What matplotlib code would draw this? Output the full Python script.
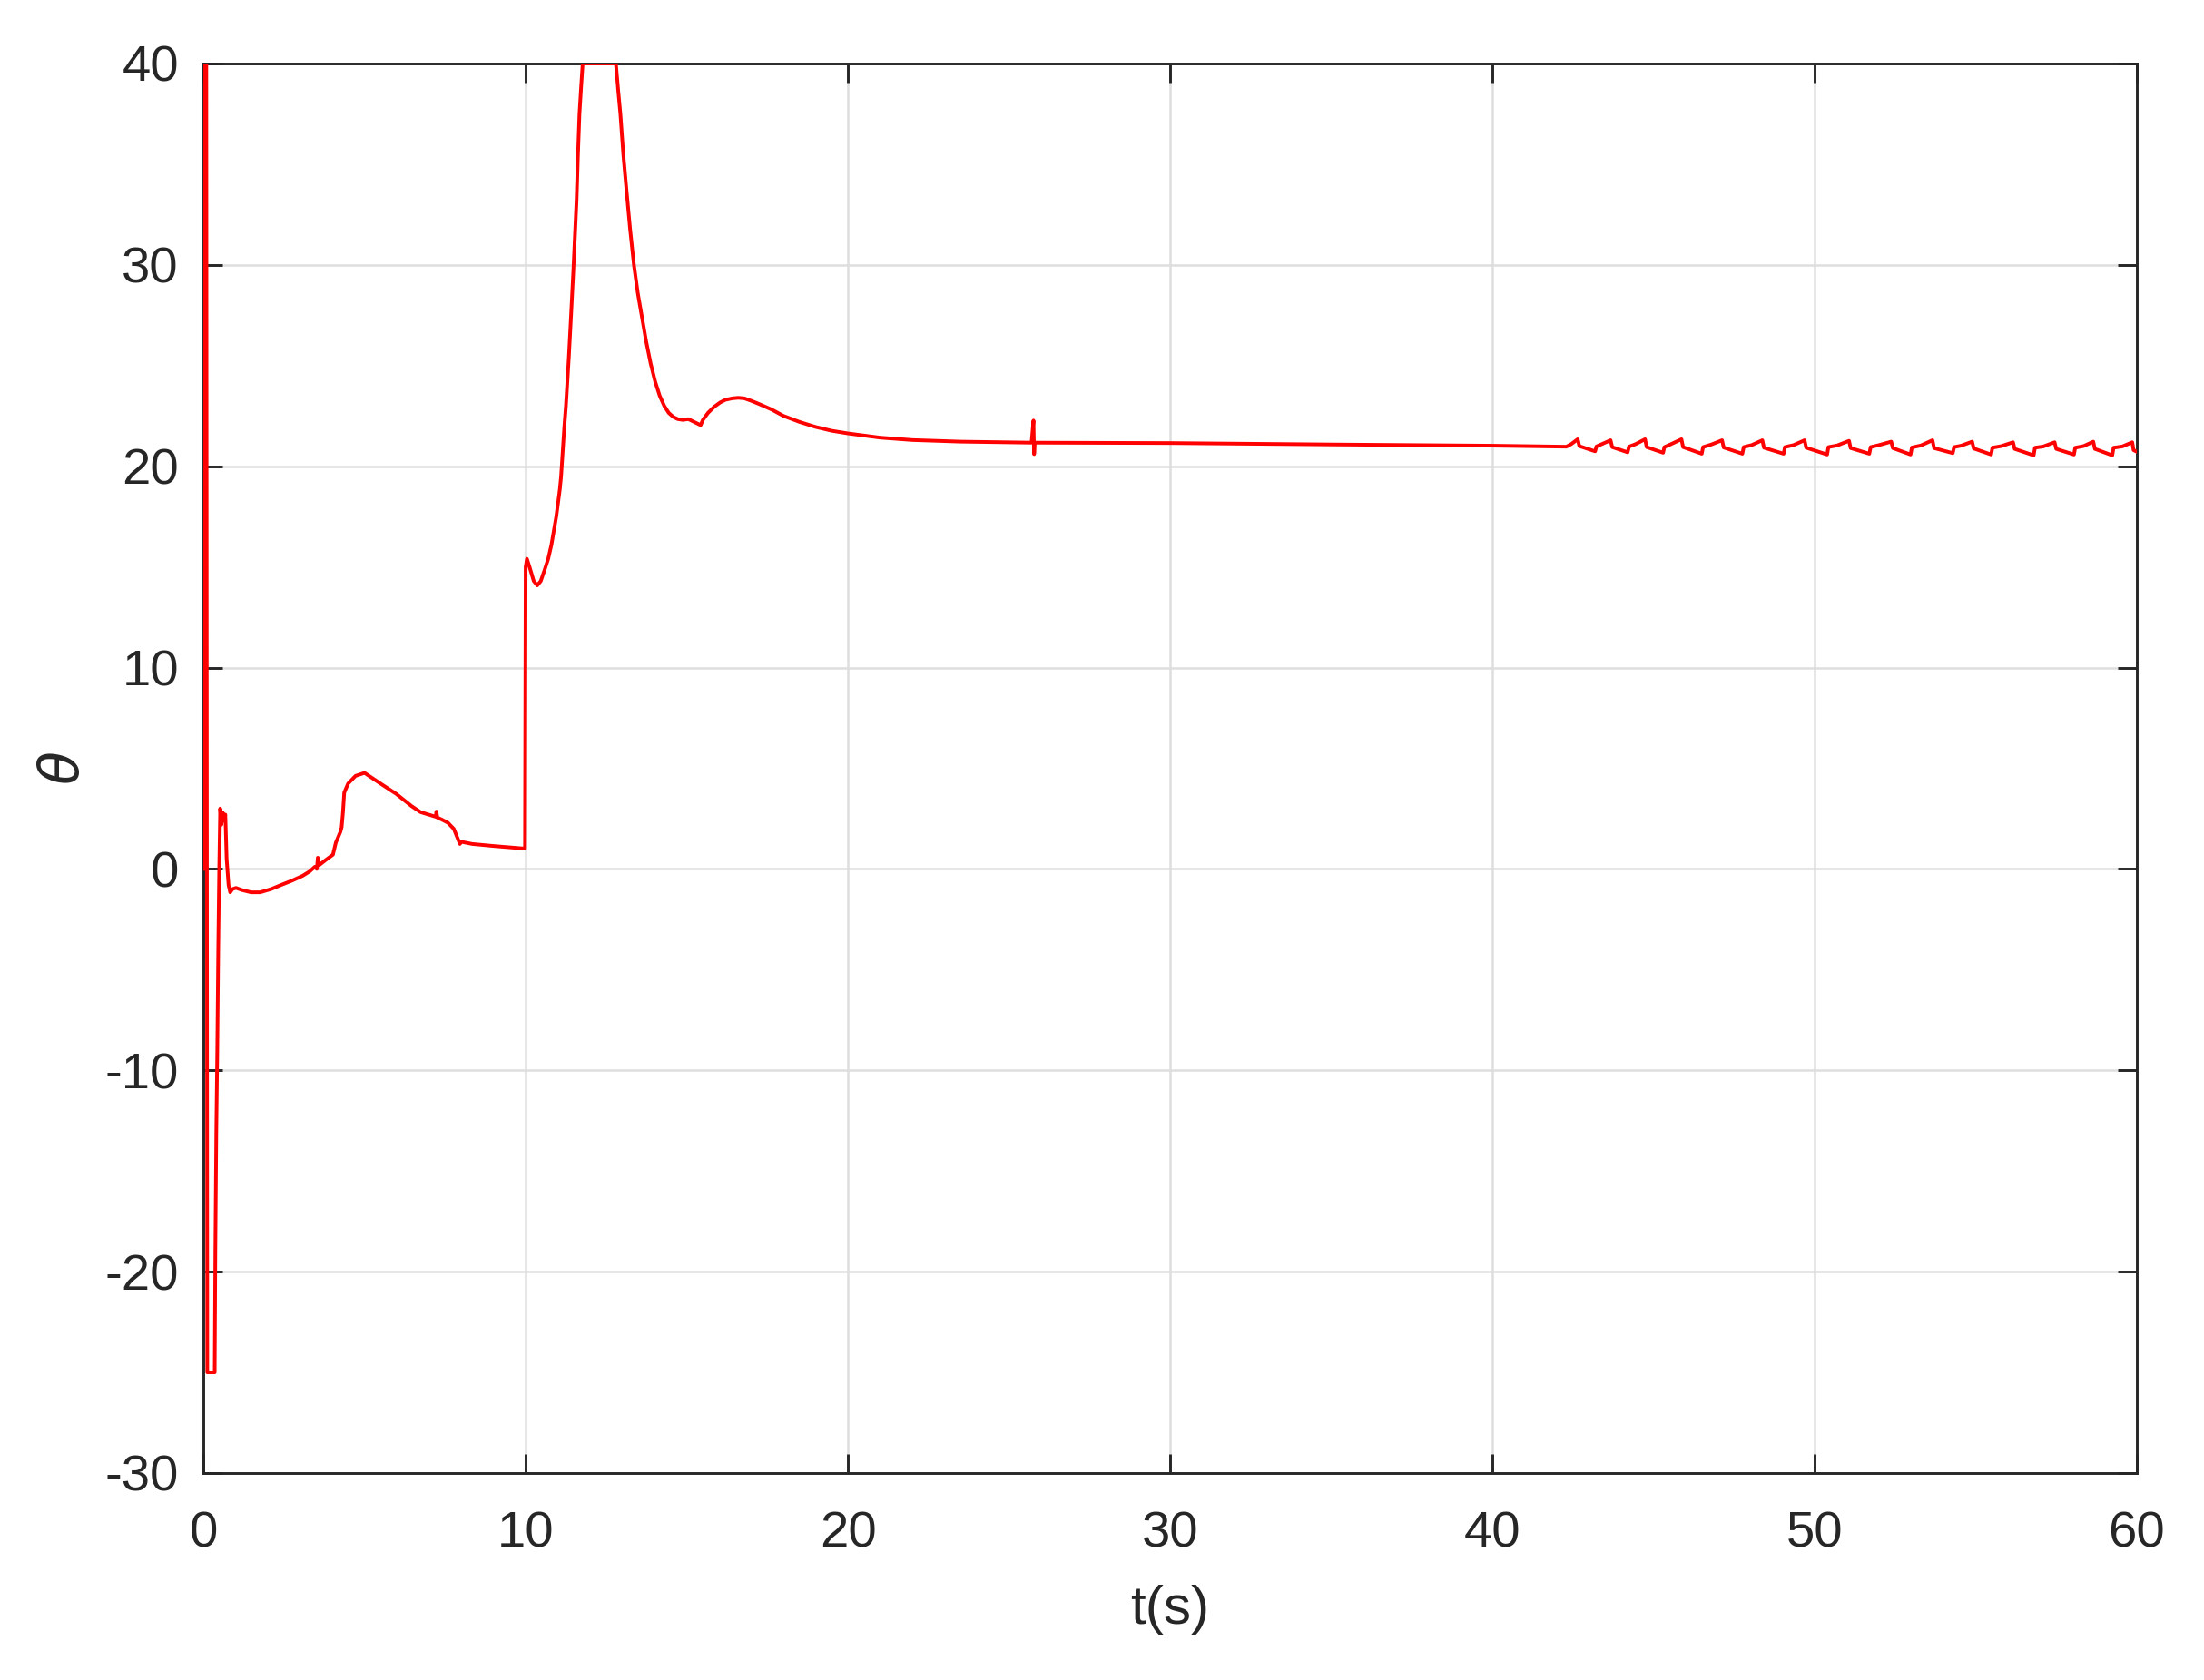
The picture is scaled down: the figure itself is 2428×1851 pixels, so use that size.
import numpy as np
import matplotlib
matplotlib.use('Agg')
import matplotlib.pyplot as plt

plt.rcParams['font.family'] = ['Liberation Sans', 'DejaVu Sans']
plt.rcParams['mathtext.fontset'] = 'dejavusans'
plt.rcParams['axes.unicode_minus'] = False

# theta response, start-up phase (0-10 s)
t_start = [0, 0.01, 0.09, 0.12, 0.35, 0.37, 0.40, 0.43, 0.46, 0.49, 0.52, 0.56, 0.60,
           0.64, 0.68, 0.72, 0.78, 0.83, 0.9, 1.01, 1.2, 1.48, 1.76, 2.1, 2.42, 2.75,
           3.08, 3.3, 3.46, 3.52, 3.55, 3.6, 3.8, 4.02, 4.11, 4.25, 4.29, 4.33, 4.37,
           4.49, 4.72, 5.0, 5.42, 5.99, 6.46, 6.74, 7.21, 7.23, 7.26, 7.4, 7.59, 7.77,
           7.96, 8.0, 8.34, 9.0, 9.98]
th_start = [0, 40, 40, -25, -25, -19, -13, -9, -4, 0, 3.0, 2.2, 2.8,
            2.4, 2.7, 0.5, -0.8, -1.16, -1.0, -0.94, -1.05, -1.16, -1.16, -1.0, -0.79, -0.58,
            -0.34, -0.12, 0.11, 0.0, 0.56, 0.2, 0.45, 0.71, 1.31, 1.84, 2.07, 2.8, 3.79,
            4.24, 4.62, 4.77, 4.32, 3.72, 3.12, 2.82, 2.59, 2.85, 2.55, 2.45, 2.29, 1.99,
            1.24, 1.35, 1.24, 1.14, 1.01]

# second manoeuvre and settling (10-42 s)
t_mid = [10.0, 10.04, 10.12, 10.25, 10.36, 10.47, 10.59, 10.7, 10.8, 10.87, 10.95, 11.06,
         11.1, 11.2, 11.25, 11.34, 11.4, 11.48, 11.53, 11.58, 11.62, 11.67, 11.72, 11.77,
         12.8, 12.87, 12.94, 13.03, 13.13, 13.24, 13.36, 13.48, 13.6, 13.74, 13.88, 14.02,
         14.16, 14.3, 14.44, 14.58, 14.72, 14.88, 15.05, 15.43, 15.5, 15.66, 15.85, 16.04,
         16.2, 16.41, 16.6, 16.79, 17.0, 17.26, 17.63, 18.0, 18.5, 19.0, 19.5, 20.0,
         21.0, 22.0, 23.5, 25.7, 25.76, 25.78, 25.8, 30.0, 35.0, 40.0]
th_mid = [15.0, 15.4, 15.0, 14.3, 14.08, 14.3, 14.86, 15.4, 16.1, 16.76, 17.5, 18.84,
          19.5, 21.95, 23.0, 25.4, 27.2, 29.7, 31.4, 33.2, 35.3, 37.5, 38.8, 40,
          40, 38.7, 37.5, 35.5, 33.7, 31.8, 30.0, 28.6, 27.5, 26.2, 25.1, 24.2,
          23.5, 23.0, 22.65, 22.45, 22.34, 22.3, 22.34, 22.04, 22.3, 22.65, 22.95, 23.17,
          23.3, 23.37, 23.4, 23.37, 23.25, 23.08, 22.82, 22.5, 22.2, 21.95, 21.76, 21.63,
          21.42, 21.3, 21.22, 21.17, 22.27, 20.6, 21.17, 21.15, 21.08, 21.02]

# small sawtooth oscillation at the end (42-60 s)
t_osc = [42.3, 42.45, 42.65, 42.7, 43.19, 43.23, 43.4, 43.67, 43.72, 44.2, 44.24, 44.45,
         44.74, 44.79, 45.3, 45.34, 45.55, 45.87, 45.92, 46.5, 46.54, 46.8, 47.13, 47.18,
         47.76, 47.8, 48.05, 48.38, 48.43, 49.04, 49.08, 49.35, 49.69, 49.74, 50.39, 50.43,
         50.7, 51.07, 51.12, 51.7, 51.74, 52.0, 52.38, 52.43, 52.98, 53.02, 53.3, 53.66,
         53.71, 54.29, 54.33, 54.55, 54.89, 54.94, 55.48, 55.52, 55.8, 56.16, 56.21, 56.8,
         56.84, 57.1, 57.45, 57.5, 58.05, 58.09, 58.35, 58.65, 58.7, 59.24, 59.28, 59.55,
         59.86, 59.9, 60.0]
th_osc = [20.97, 21.1, 21.34, 21.0, 20.74, 20.98, 21.1, 21.29, 20.95, 20.69, 20.97, 21.1,
          21.34, 20.95, 20.67, 20.95, 21.1, 21.34, 20.95, 20.62, 20.95, 21.08, 21.29, 20.93,
          20.62, 20.95, 21.05, 21.29, 20.92, 20.62, 20.95, 21.05, 21.29, 20.92, 20.58, 20.95,
          21.03, 21.26, 20.9, 20.62, 20.95, 21.05, 21.22, 20.9, 20.58, 20.93, 21.03, 21.29,
          20.9, 20.65, 20.95, 21.02, 21.22, 20.88, 20.58, 20.92, 21.0, 21.19, 20.86, 20.54,
          20.92, 20.98, 21.19, 20.86, 20.58, 20.92, 21.0, 21.22, 20.86, 20.54, 20.92, 20.98,
          21.19, 20.8, 20.72]

t = np.array(t_start + t_mid + t_osc)
theta = np.array(th_start + th_mid + th_osc)

xticks = [0, 10, 20, 30, 40, 50, 60]
yticks = [-30, -20, -10, 0, 10, 20, 30, 40]

dark = '#262626'

fig = plt.figure(figsize=(2428 / 300, 1851 / 300), dpi=300)
ax = fig.add_axes([0.0923, 0.1232, 0.8772, 0.8390])

ax.plot(t, theta, color='red', linewidth=0.95, zorder=3)

ax.set_xlim(0, 60)
ax.set_ylim(-30, 40)
ax.set_xticks(xticks)
ax.set_yticks(yticks)
ax.grid(True, color='#dedede', linewidth=0.6)
ax.set_axisbelow(True)

ax.tick_params(direction='in', length=5, width=0.7, colors=dark, labelsize=13.5,
               top=True, right=True)
ax.tick_params(axis='x', pad=10)
ax.tick_params(axis='y', pad=6.5)
for s in ax.spines.values():
    s.set_color(dark)
    s.set_linewidth(0.7)

ax.set_xlabel('t(s)', fontsize=14.5, color=dark, labelpad=7)
ax.set_ylabel(r'$\theta$', fontsize=14.5, color=dark, labelpad=4)

fig.savefig('out.png', dpi=300, facecolor='white')
